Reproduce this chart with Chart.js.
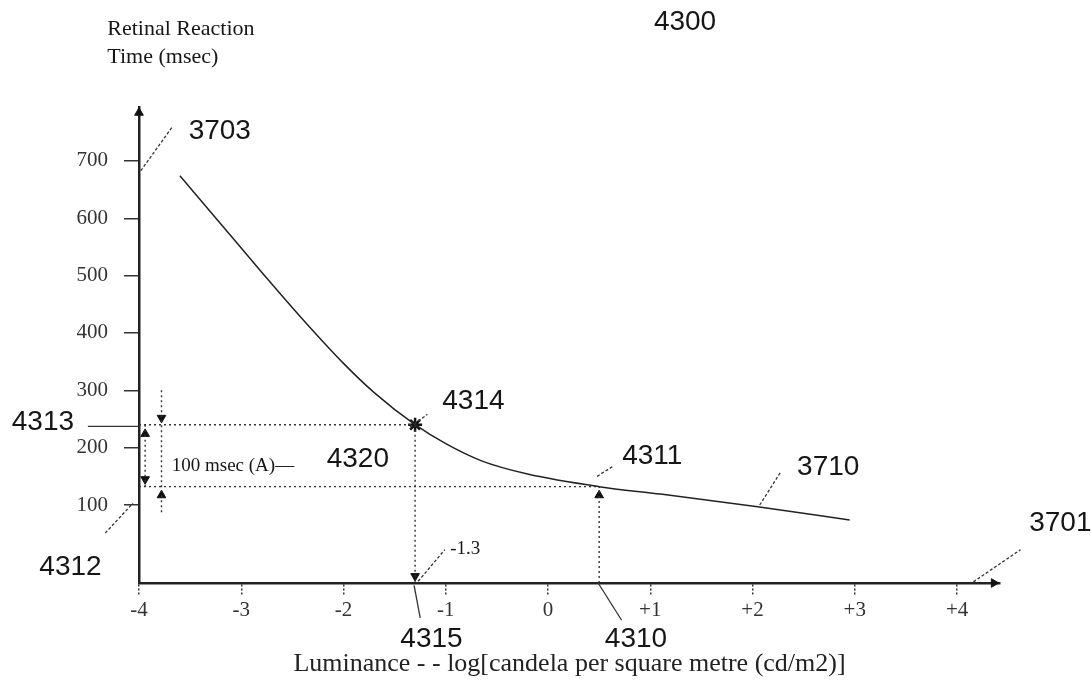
<!DOCTYPE html>
<html>
<head>
<meta charset="utf-8">
<script src="https://cdn.jsdelivr.net/npm/chart.js@4.4.1/dist/chart.umd.min.js"></script>
<style>
  html, body { margin: 0; padding: 0; background: #fff; }
  canvas { display: block; }
</style>
</head>
<body>
<canvas id="grafico" width="1091" height="688" style="width:1091px;height:688px"></canvas>
<script>
// Curva 3710: tiempo de reaccion retinal (ms) frente a luminancia log(cd/m2)
const curveX = [-3.6, -3.2, -2.8, -2.4, -2.0, -1.7, -1.3, -1.0, -0.65, -0.2, 0.5, 1.1, 2.05, 2.95];
const curveY = [674, 590, 506, 424, 347, 296, 240, 207, 177, 154, 132, 119, 97, 74];
const xTickValues = [-4, -3, -2, -1, 0, 1, 2, 3, 4];
const yTickValues = [100, 200, 300, 400, 500, 600, 700];
const pointA = [-1.3, 240];   // 4314
const pointB = [0.5, 132];    // 4311
const xRange = [-4, 4.42];
const yRange = [-36, 794];

var serif = '"Liberation Serif", "DejaVu Serif", serif';
var sans = '"Liberation Sans", Arial, sans-serif';

function pt(p) { return { x: p[0], y: p[1] }; }

// lineas punteadas de construccion
function guia(puntos) {
    return {
        data: puntos.map(pt),
        borderColor: '#333',
        borderWidth: 1.4,
        borderDash: [2, 3],
        pointRadius: 0,
        tension: 0,
        clip: false
    };
}

// flechas: [x, y, rotacion]
var flechas = [
    [pointA[0], -24, 180],
    [pointB[0], 117, 0],
    [-3.78, 252, 180],
    [-3.78, 117, 0],
    [-3.94, 224, 0],
    [-3.94, 145, 180],
    [xRange[0], 784, 0],
    [4.36, yRange[0], 90]
];

// textos de referencia: [texto, x, y, fuente, alineacion]
var textos = [
    ['4300', 1.34, 941, '28px ' + sans, 'center'],
    ['3703', -3.21, 752, '28px ' + sans, 'center'],
    ['4314', -0.73, 280, '28px ' + sans, 'center'],
    ['4320', -1.86, 180, '28px ' + sans, 'center'],
    ['4311', 1.02, 185, '28px ' + sans, 'center'],
    ['3710', 2.74, 166, '28px ' + sans, 'center'],
    ['3701', 5.01, 69, '28px ' + sans, 'center'],
    ['4313', -4.94, 245, '28px ' + sans, 'center'],
    ['4312', -4.67, -8, '28px ' + sans, 'center'],
    ['4315', -1.14, -134, '28px ' + sans, 'center'],
    ['4310', 0.86, -134, '28px ' + sans, 'center'],
    ['-1.3', -0.81, 23, '19px ' + serif, 'center'],
    ['100 msec (A)\u2014', -3.68, 168, '19px ' + serif, 'left'],
    ['Retinal Reaction', -4.31, 930, '22px ' + serif, 'left'],
    ['Time (msec)', -4.31, 881, '22px ' + serif, 'left']
];

// lineas guia de los textos: [x1, y1, x2, y2, punteada]
var lineas = [
    [-3.68, 758, -3.99, 681, true],
    [-1.35, 236, -1.18, 258, true],
    [0.48, 150, 0.64, 168, true],
    [2.07, 100, 2.27, 156, true],
    [4.16, -34, 4.62, 22, true],
    [-4.5, 237, -4, 237, false],
    [-4.33, 51, -4.06, 103, true],
    [-1.31, -40, -1.25, -97, false],
    [0.49, -36, 0.72, -101, false],
    [-1.27, -33, -1.01, 22, true]
];

var anotaciones = {
    id: 'anotaciones',
    afterDatasetsDraw: function (chart) {
        var ctx = chart.ctx;
        var xs = chart.scales.x, ys = chart.scales.y;
        ctx.save();
        ctx.strokeStyle = '#333';
        ctx.lineWidth = 1.3;
        lineas.forEach(function (l) {
            ctx.setLineDash(l[4] ? [3, 2] : []);
            ctx.beginPath();
            ctx.moveTo(xs.getPixelForValue(l[0]), ys.getPixelForValue(l[1]));
            ctx.lineTo(xs.getPixelForValue(l[2]), ys.getPixelForValue(l[3]));
            ctx.stroke();
        });
        ctx.setLineDash([]);
        ctx.fillStyle = '#161616';
        ctx.textBaseline = 'middle';
        textos.forEach(function (t) {
            ctx.font = t[3];
            ctx.textAlign = t[4];
            ctx.fillText(t[0], xs.getPixelForValue(t[1]), ys.getPixelForValue(t[2]));
        });
        ctx.restore();
    }
};

var datasets = [
    {
        data: curveX.map(function (x, i) { return { x: x, y: curveY[i] }; }),
        borderColor: '#222',
        borderWidth: 1.5,
        pointRadius: 0,
        cubicInterpolationMode: 'monotone'
    },
    guia([[xRange[0], pointA[1]], pointA]),
    guia([pointA, [pointA[0], yRange[0]]]),
    guia([[xRange[0], pointB[1]], pointB]),
    guia([[pointB[0], yRange[0]], pointB]),
    guia([[-3.78, 300], [-3.78, 86]]),
    guia([[-3.94, pointA[1]], [-3.94, pointB[1]]]),
    {
        data: [pt(pointA)],
        showLine: false,
        pointStyle: 'star',
        pointRadius: 7,
        borderColor: '#111',
        borderWidth: 2.5,
        clip: false
    },
    {
        data: flechas.map(function (f) { return { x: f[0], y: f[1] }; }),
        showLine: false,
        pointStyle: 'triangle',
        pointRadius: 5,
        pointRotation: flechas.map(function (f) { return f[2]; }),
        backgroundColor: '#111',
        borderColor: '#111',
        borderWidth: 1,
        clip: false
    }
];

new Chart(document.getElementById('grafico'), {
    type: 'line',
    data: { datasets: datasets },
    options: {
        responsive: false,
        animation: false,
        devicePixelRatio: 1,
        layout: { padding: { top: 107, right: 91, bottom: 0, left: 0 } },
        plugins: { legend: { display: false }, tooltip: { enabled: false } },
        scales: {
            x: {
                type: 'linear',
                min: xRange[0],
                max: xRange[1],
                afterBuildTicks: function (scale) {
                    scale.ticks = xTickValues.map(function (v) { return { value: v }; });
                },
                afterFit: function (scale) { scale.height = 105; },
                border: { display: true, color: '#222', width: 2.5 },
                grid: { drawOnChartArea: false, drawTicks: true, tickLength: 12, color: '#333', lineWidth: 1.5, tickBorderDash: [2, 2] },
                ticks: {
                    padding: 3,
                    color: '#333',
                    font: { family: serif, size: 21 },
                    maxRotation: 0,
                    callback: function (v) { return v > 0 ? '+' + v : String(v); }
                },
                title: {
                    display: true,
                    text: 'Luminance - - log[candela per square metre (cd/m2)]',
                    color: '#222',
                    font: { family: serif, size: 26 },
                    padding: { top: 0, bottom: 8 }
                }
            },
            y: {
                type: 'linear',
                min: yRange[0],
                max: yRange[1],
                afterBuildTicks: function (scale) {
                    scale.ticks = yTickValues.map(function (v) { return { value: v }; });
                },
                afterFit: function (scale) { scale.width = 139; },
                border: { display: true, color: '#222', width: 2.5 },
                grid: { drawOnChartArea: false, drawTicks: true, tickLength: 15, color: '#333', lineWidth: 1.5 },
                ticks: {
                    padding: 16,
                    color: '#333',
                    font: { family: serif, size: 21 }
                }
            }
        }
    },
    plugins: [anotaciones]
});
</script>
</body>
</html>
